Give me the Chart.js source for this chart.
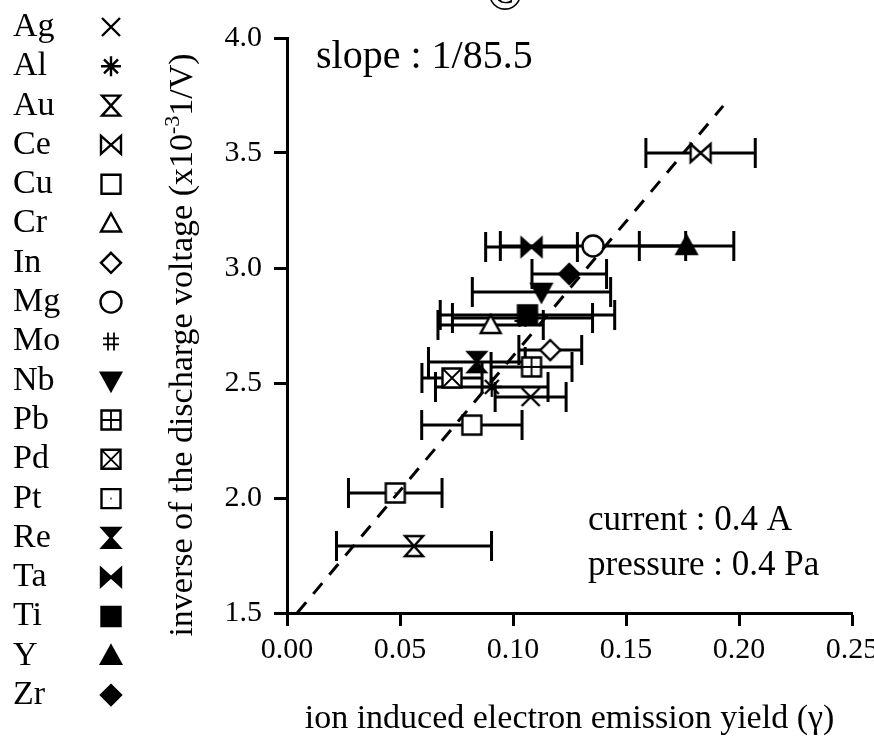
<!DOCTYPE html>
<html>
<head>
<meta charset="utf-8">
<script src="https://cdn.jsdelivr.net/npm/chart.js@4.4.1/dist/chart.umd.min.js"></script>
<style>
  html, body { margin: 0; background: #fff; }
  #wrap { width: 874px; height: 752px; }
</style>
</head>
<body>
<div id="wrap"><canvas id="chart"></canvas></div>
<script>
// target metals, in legend order
const elements = ["Ag","Al","Au","Ce","Cu","Cr","In","Mg","Mo","Nb","Pb","Pd","Pt","Re","Ta","Ti","Y","Zr"];
// ion induced electron emission yield (gamma)
const gamma = [0.1078,0.0906,0.0562,0.1830,0.0818,0.0901,0.1165,0.1354,0.1042,0.1126,0.1082,0.0730,0.0479,0.0840,0.1082,0.1064,0.1768,0.1249];
// inverse of the discharge voltage, x10^-3 1/V
const inverseVoltage = [2.439,2.483,1.791,3.500,2.317,2.752,2.643,3.096,2.783,2.896,2.570,2.522,2.022,2.591,3.091,2.796,3.096,2.974];
// half width of the gamma error bars
const gammaError = [0.0157,0.0249,0.0343,0.0242,0.0222,0.0233,0.0139,0.0410,0.0310,0.0306,0.0179,0.0133,0.0207,0.0214,0.0203,0.0386,0.0209,0.0165];
// marker shape for each metal, and whether it is filled
const symbols = ["cross","asterisk","hourglass","bowtie","square","triangle","diamond","circle","hash","triangleDown","squarePlus","squareCross","squareDot","hourglass","bowtie","square","triangle","diamond"];
const solid = [false,false,false,false,false,false,false,false,false,true,false,false,false,true,true,true,true,true];
// fitted line, slope 1/85.5
const fitGamma = [0.0045, 0.193];
const fitVoltage = [1.5, 3.705];

const xTicks = [0, 0.05, 0.10, 0.15, 0.20, 0.25];
const yTicks = [1.5, 2.0, 2.5, 3.0, 3.5, 4.0];

const serif = '"Liberation Serif", "Times New Roman", serif';

function drawSymbol(ctx, kind, filled, x, y) {
  const h = 10;
  ctx.save();
  ctx.lineWidth = 2.4;
  ctx.strokeStyle = "#000";
  ctx.fillStyle = filled ? "#000" : "#fff";
  ctx.beginPath();
  switch (kind) {
    case "cross":
      ctx.moveTo(x - 9, y - 9); ctx.lineTo(x + 9, y + 9);
      ctx.moveTo(x + 9, y - 9); ctx.lineTo(x - 9, y + 9);
      ctx.stroke();
      break;
    case "asterisk":
      ctx.moveTo(x - 7, y - 7); ctx.lineTo(x + 7, y + 7);
      ctx.moveTo(x + 7, y - 7); ctx.lineTo(x - 7, y + 7);
      ctx.moveTo(x, y - 10); ctx.lineTo(x, y + 10);
      ctx.moveTo(x - 10, y); ctx.lineTo(x + 10, y);
      ctx.stroke();
      break;
    case "hourglass":
      ctx.moveTo(x - 9, y - h); ctx.lineTo(x + 9, y - h);
      ctx.lineTo(x - 9, y + h); ctx.lineTo(x + 9, y + h);
      ctx.closePath(); ctx.fill(); ctx.stroke();
      break;
    case "bowtie":
      ctx.moveTo(x - h, y - 9); ctx.lineTo(x + h, y + 9);
      ctx.lineTo(x + h, y - 9); ctx.lineTo(x - h, y + 9);
      ctx.closePath(); ctx.fill(); ctx.stroke();
      break;
    case "square":
    case "squarePlus":
    case "squareCross":
    case "squareDot":
      ctx.rect(x - 9.5, y - 9.5, 19, 19);
      ctx.fill(); ctx.stroke();
      ctx.beginPath();
      if (kind === "squarePlus") {
        ctx.moveTo(x, y - 9); ctx.lineTo(x, y + 9);
        ctx.moveTo(x - 9, y); ctx.lineTo(x + 9, y);
      } else if (kind === "squareCross") {
        ctx.moveTo(x - 9, y - 9); ctx.lineTo(x + 9, y + 9);
        ctx.moveTo(x + 9, y - 9); ctx.lineTo(x - 9, y + 9);
      }
      ctx.lineWidth = 1.8;
      ctx.stroke();
      if (kind === "squareDot") {
        ctx.fillStyle = "#777";
        ctx.fillRect(x - 1, y - 1, 2, 2);
      }
      break;
    case "triangle":
      ctx.moveTo(x, y - h); ctx.lineTo(x + h, y + 8); ctx.lineTo(x - h, y + 8);
      ctx.closePath(); ctx.fill(); ctx.stroke();
      break;
    case "triangleDown":
      ctx.moveTo(x, y + h); ctx.lineTo(x + h, y - 8); ctx.lineTo(x - h, y - 8);
      ctx.closePath(); ctx.fill(); ctx.stroke();
      break;
    case "diamond":
      ctx.moveTo(x, y - h); ctx.lineTo(x + h, y); ctx.lineTo(x, y + h); ctx.lineTo(x - h, y);
      ctx.closePath(); ctx.fill(); ctx.stroke();
      break;
    case "circle":
      ctx.arc(x, y, 10.5, 0, Math.PI * 2);
      ctx.fill(); ctx.stroke();
      break;
    case "hash":
      ctx.lineWidth = 1.8;
      ctx.moveTo(x - 3, y - 9); ctx.lineTo(x - 3, y + 9);
      ctx.moveTo(x + 3, y - 9); ctx.lineTo(x + 3, y + 9);
      ctx.moveTo(x - 8, y - 3); ctx.lineTo(x + 8, y - 3);
      ctx.moveTo(x - 8, y + 3); ctx.lineTo(x + 8, y + 3);
      ctx.stroke();
      break;
  }
  ctx.restore();
}

function markerCanvas(kind, filled) {
  const c = document.createElement("canvas");
  c.width = 28; c.height = 28;
  drawSymbol(c.getContext("2d"), kind, filled, 14, 14);
  return c;
}

// horizontal error bars with end caps, under the markers
const errorBars = {
  id: "errorBars",
  beforeDatasetsDraw(chart) {
    const { ctx, scales: { x, y } } = chart;
    ctx.save();
    ctx.strokeStyle = "#000";
    ctx.lineWidth = 3;
    gamma.forEach((g, i) => {
      const py = y.getPixelForValue(inverseVoltage[i]);
      const x0 = x.getPixelForValue(g - gammaError[i]);
      const x1 = x.getPixelForValue(g + gammaError[i]);
      ctx.beginPath();
      ctx.moveTo(x0, py); ctx.lineTo(x1, py);
      ctx.moveTo(x0, py - 15); ctx.lineTo(x0, py + 15);
      ctx.moveTo(x1, py - 15); ctx.lineTo(x1, py + 15);
      ctx.stroke();
    });
    ctx.restore();
  }
};

// element key on the left, plus the text notes
const notes = {
  id: "notes",
  afterDraw(chart) {
    const ctx = chart.ctx;
    ctx.save();
    ctx.fillStyle = "#000";
    ctx.textBaseline = "middle";
    ctx.textAlign = "left";
    ctx.font = "34px " + serif;
    elements.forEach((name, i) => {
      const yy = 27 + i * 39.3;
      ctx.fillText(name, 13, yy);
      drawSymbol(ctx, symbols[i], solid[i], 111, yy);
    });

    ctx.font = "40px " + serif;
    ctx.fillText("slope : 1/85.5", 316, 57);
    ctx.font = "35px " + serif;
    ctx.fillText("current : 0.4 A", 588, 521);
    ctx.fillText("pressure : 0.4 Pa", 588, 566);

    // panel mark, clipped by the top edge
    ctx.textAlign = "center";
    ctx.textBaseline = "alphabetic";
    ctx.font = "48px " + serif;
    ctx.fillText("\u00a9", 505, 10);

    // y axis title with the 10^-3 exponent
    ctx.translate(183, 345);
    ctx.rotate(-Math.PI / 2);
    const big = "34px " + serif, small = "22px " + serif;
    const a = "inverse of the discharge voltage (x10", b = "-3", c = "1/V)";
    ctx.font = big; const wa = ctx.measureText(a).width, wc = ctx.measureText(c).width;
    ctx.font = small; const wb = ctx.measureText(b).width;
    let sx = -(wa + wb + wc) / 2;
    ctx.textAlign = "left";
    ctx.textBaseline = "middle";
    ctx.font = big; ctx.fillText(a, sx, 0); sx += wa;
    ctx.font = small; ctx.fillText(b, sx, -10); sx += wb;
    ctx.font = big; ctx.fillText(c, sx, 0);
    ctx.restore();
  }
};

const datasets = [{
  type: "scatter",
  label: "fit",
  data: fitGamma.map((g, i) => ({ x: g, y: fitVoltage[i] })),
  showLine: true,
  borderColor: "#000",
  borderWidth: 3,
  borderDash: [14, 11],
  pointRadius: 0,
  order: 0
}];
elements.forEach((name, i) => {
  datasets.push({
    label: name,
    data: [{ x: gamma[i], y: inverseVoltage[i] }],
    pointStyle: markerCanvas(symbols[i], solid[i]),
    pointRadius: 10,
    order: elements.length - i + 1
  });
});

const axisLine = { display: true, color: "#000", width: 3 };
const tickMarks = { display: true, drawOnChartArea: false, drawTicks: true, tickLength: 13, tickColor: "#000", tickWidth: 3 };

new Chart(document.getElementById("chart"), {
  type: "scatter",
  data: { datasets },
  options: {
    responsive: true,
    maintainAspectRatio: false,
    animation: false,
    layout: { padding: { left: 0, right: 22, top: 38, bottom: 0 } },
    plugins: { legend: { display: false }, tooltip: { enabled: false } },
    scales: {
      x: {
        min: 0, max: 0.25,
        border: axisLine,
        grid: tickMarks,
        afterBuildTicks: s => { s.ticks = xTicks.map(v => ({ value: v })); },
        ticks: {
          color: "#000", padding: 6, maxRotation: 0,
          font: { family: serif, size: 30 },
          callback: v => v.toFixed(2)
        },
        title: {
          display: true,
          text: "ion induced electron emission yield (\u03b3)",
          color: "#000",
          font: { family: serif, size: 34 },
          padding: { top: 0, bottom: 13 }
        },
        afterFit: s => { s.height = 139; s.paddingLeft = 0; s.paddingRight = 0; }
      },
      y: {
        min: 1.5, max: 4.0,
        border: axisLine,
        grid: tickMarks,
        afterBuildTicks: s => { s.ticks = yTicks.map(v => ({ value: v })); },
        ticks: {
          color: "#000", padding: 12,
          font: { family: serif, size: 30 },
          callback: v => v.toFixed(1)
        },
        afterFit: s => { s.width = 287; s.paddingTop = 0; s.paddingBottom = 0; }
      }
    }
  },
  plugins: [errorBars, notes]
});
</script>
</body>
</html>
